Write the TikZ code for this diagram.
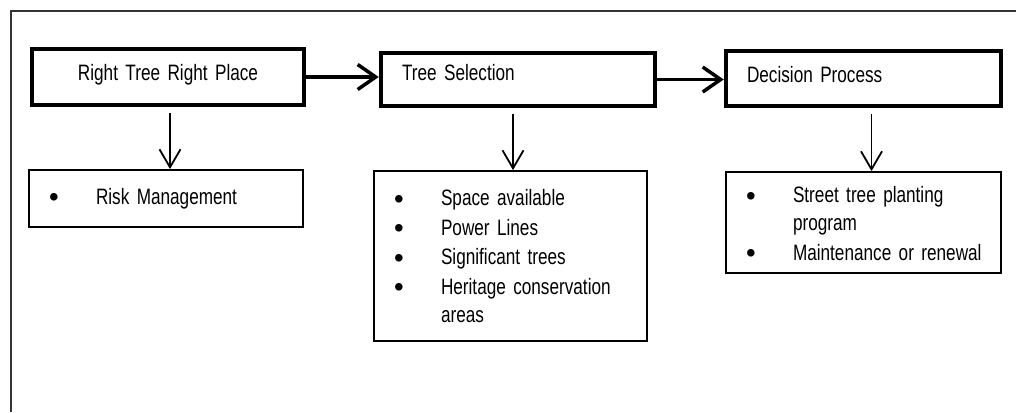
\documentclass[tikz,border=0pt]{standalone}
\usepackage{graphicx}
\usepackage{fontspec}
\setmainfont[FakeStretch=0.77,WordSpace=0.8]{Liberation Sans}
\usetikzlibrary{arrows.meta}
% one bulleted entry with a hanging indent (entries are ended by \par)
\newcommand{\titem}{\noindent\hangindent=67pt\hangafter=1\hspace*{20pt}\makebox[47pt][l]{\raisebox{-2.5pt}{\scalebox{1.6}[1.25]{\textbullet}}}}
\begin{document}
\begin{tikzpicture}[x=1pt,y=-1pt,
    font=\fontsize{22.3}{28}\selectfont,
    headbox/.style={draw,line width=4.5pt,inner xsep=21pt,inner ysep=0pt,align=left,text height=14pt},
    listbox/.style={draw,line width=1.8pt,inner sep=0pt,align=left,
        execute at begin node={\setlength{\parskip}{1.5pt}}},
    down/.style={-{Straight Barb[length=18pt,width=21pt]},line width=1.8pt,shorten <=6pt},
    next/.style={-{Straight Barb[length=18pt,width=25pt]},line width=3.5pt}]
    \useasboundingbox (0,0) rectangle (1016,412);
    \draw[line width=1.5pt,black!80] (11,412) -- (11,11) -- (1016,11);
    % top row
    \node[headbox,minimum width=272pt,minimum height=56pt,text width=230pt,align=center,text depth=8pt] (rtrp) at (168,77) {Right Tree Right Place};
    \node[headbox,minimum width=274pt,minimum height=53pt,text width=232pt,text depth=13pt] (tsel) at (518,79.5) {Tree Selection};
    \node[headbox,minimum width=275pt,minimum height=55pt,text width=233pt,text depth=7pt] (dproc) at (863.5,78.5) {Decision Process};
    % lists
    \node[listbox,minimum width=274pt,minimum height=57pt,text width=274pt] (risk) at (166,198.5) {\titem Risk Management\par};
    \node[listbox,minimum width=273pt,minimum height=170pt,text width=273pt] (sel) at (510.5,256) {\titem Space available\par\titem Power Lines\par\titem Significant trees\par\titem Heritage conservation\newline areas\par\vspace*{3pt}};
    \node[listbox,minimum width=275pt,minimum height=101pt,text width=275pt] (plan) at (863.5,222.5) {\titem\rule{0pt}{20pt}Street tree planting\newline program\par\titem Maintenance or renewal\par};
    % connectors
    \draw[next] (rtrp.east) -- (rtrp.east -| tsel.west);
    \draw[next] (tsel.east) -- (tsel.east -| dproc.west);
    \draw[down] ([xshift=2pt]rtrp.south) -- ([xshift=2pt]rtrp.south |- risk.north);
    \draw[down] ([xshift=-5pt]tsel.south) -- ([xshift=-5pt]tsel.south |- sel.north);
    \draw[down] ([xshift=8pt]dproc.south) -- ([xshift=8pt]dproc.south |- plan.north);
\end{tikzpicture}
\end{document}
